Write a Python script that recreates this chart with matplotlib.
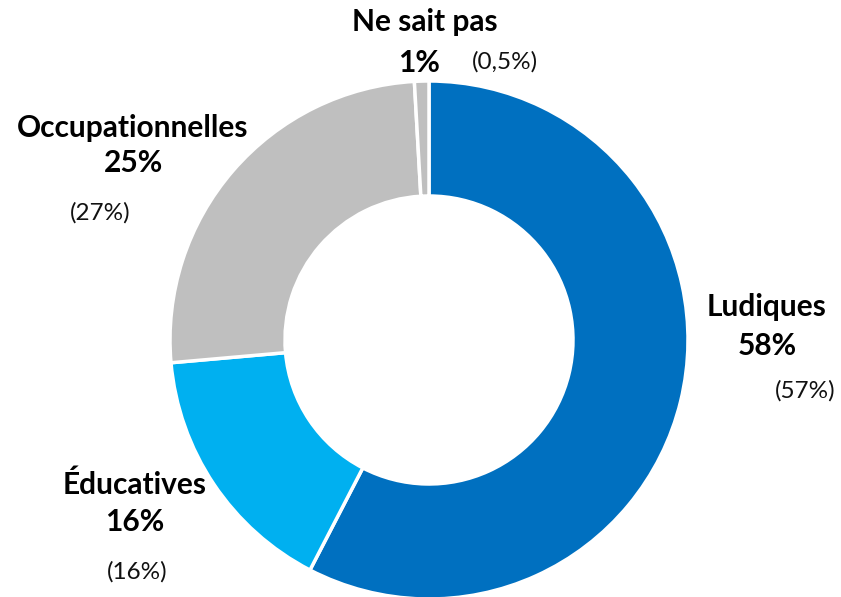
import matplotlib
matplotlib.use("Agg")
import matplotlib.pyplot as plt

categories = ["Ludiques", "Éducatives", "Occupationnelles", "Ne sait pas"]
values = [57.6, 16.0, 25.5, 0.9]
pct_labels = ["58%", "16%", "25%", "1%"]
prev_labels = ["(57%)", "(16%)", "(27%)", "(0,5%)"]
colors = ["#0070C0", "#00B0F0", "#BFBFBF", "#BFBFBF"]

plt.rcParams['font.family'] = ['Lato', 'DejaVu Sans']

W, H = 841, 597
fig = plt.figure(figsize=(W / 100, H / 100), dpi=100)
ax = fig.add_axes([0, 0, 1, 1])
R = 259.0
cx, cy = 429.0, 340.0

ax.pie(values, colors=colors, startangle=90, counterclock=False, radius=1.0,
       wedgeprops=dict(width=1 - 144 / 259, edgecolor='white', linewidth=2.5))
ax.set_aspect('equal', adjustable='box')
ax.set_xlim(-cx / R, (W - cx) / R)
ax.set_ylim(-(H - cy) / R, cy / R)
ax.axis('off')

def px(x, y):
    return (x - cx) / R, (cy - y) / R

# label positions in pixels (name, pct, previous)
name_pos = [(767, 307), (135, 485), (133, 128), (425, 22)]
pct_pos = [(767, 346), (135, 522), (133, 163), (419, 63)]
prev_pos = [(805, 391), (137, 572), (100, 213), (505, 62)]

for i in range(len(categories)):
    ax.text(*px(*name_pos[i]), categories[i], ha='center', va='center',
            fontsize=21.5, fontweight='bold', color='black')
    ax.text(*px(*pct_pos[i]), pct_labels[i], ha='center', va='center',
            fontsize=21.5, fontweight='bold', color='black')
    ax.text(*px(*prev_pos[i]), prev_labels[i], ha='center', va='center',
            fontsize=17.5, color='#111111')

fig.savefig("out.png", dpi=100)
